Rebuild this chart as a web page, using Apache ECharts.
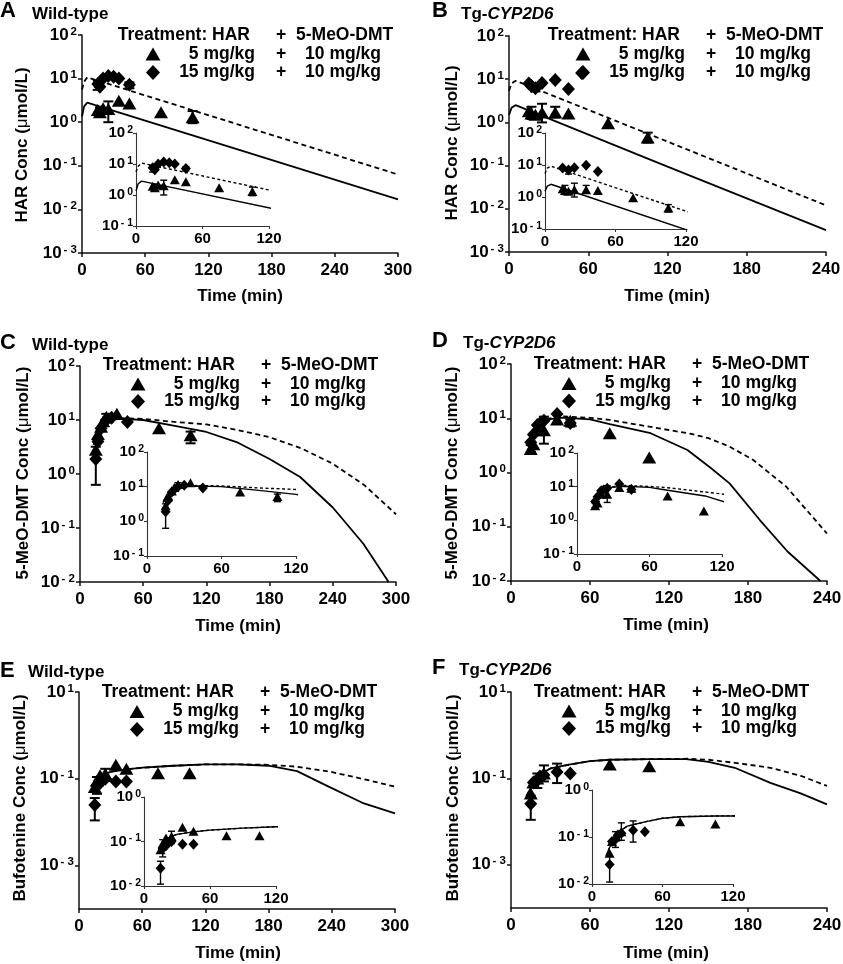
<!DOCTYPE html>
<html><head><meta charset="utf-8">
<script src="https://cdn.jsdelivr.net/npm/echarts@6/dist/echarts.min.js"></script>
<style>html,body{margin:0;padding:0;background:#fff}#c{width:843px;height:964px}</style>
</head><body><div id="c"></div>
<script>
// ===================== DATA =====================
// Panel A: HAR, wild-type
const A_triT = [15, 17, 20, 25, 35, 45, 75, 105];
const A_triV = [1.9, 1.7, 2.1, 2.0, 3.1, 2.7, 1.7, 1.3];
const A_diaT = [15, 17, 20, 25, 30, 35, 45];
const A_diaV = [7.5, 6.5, 10, 11.5, 11, 10, 7.2];
const A_triErr = [[17, 1.4, 2.2], [25, 1.0, 3.0], [105, 0.95, 1.8]];
const A_diaErr = [[15, 5.5, 9.0], [45, 6.0, 8.2]];
const A_fit5 = [[0, 1.35], [2, 2.3], [5, 2.8], [150, 0.23], [300, 0.017]];
const A_fit15 = [[0, 5.6], [2, 8.5], [5, 10.7], [150, 0.86], [300, 0.063]];
// Panel B: HAR, Tg-CYP2D6
const B_triT = [15, 17, 20, 25, 35, 45, 75, 105];
const B_triV = [1.8, 1.6, 1.5, 1.7, 1.7, 1.6, 0.95, 0.45];
const B_diaT = [15, 17, 20, 25, 35, 45, 55];
const B_diaV = [8.0, 7.0, 6.2, 8.2, 9.6, 5.9, 14];
const B_inDiaT = [15, 20, 25, 35, 45];          // diamonds as drawn in the B inset
const B_inDiaV = [8.0, 7.0, 8.2, 9.8, 6.3];
const B_triErr = [[17, 1.2, 2.3], [25, 1.0, 2.7], [35, 1.3, 2.3], [105, 0.34, 0.58]];
const B_diaErr = [[20, 5.2, 7.2]];
const B_fit5 = [[0, 1.5], [2, 2.2], [5, 2.5], [120, 0.095], [240, 0.0032]];
const B_fit15 = [[0, 5.4], [2, 8.0], [5, 9.2], [120, 0.36], [240, 0.012]];
// Panel C: 5-MeO-DMT, wild-type
const C_triT = [15, 17, 20, 22, 25, 35, 75, 105];
const C_triV = [2.8, 5.5, 7.5, 9.5, 11.5, 13, 7.0, 5.2];
const C_diaT = [15, 17, 20, 25, 30, 45];
const C_diaV = [1.9, 4.0, 7.0, 10, 11, 9.2];
const C_triErr = [[25, 9.0, 13], [105, 3.7, 6.1]];
const C_diaErr = [[15, 0.63, 3.2]];
const C_fit5 = [[13, 3.5], [15, 5.0], [18, 7.0], [22, 9.0], [28, 10.2], [40, 10.5], [60, 10], [90, 7.8], [120, 6.0], [150, 3.8], [180, 1.9], [209, 0.88], [240, 0.24], [269, 0.051], [293, 0.01]];
const C_fit15 = [[13, 3.5], [15, 5.0], [18, 7.0], [22, 9.0], [28, 10.3], [40, 10.8], [60, 10.5], [90, 9.2], [120, 8.3], [150, 6.5], [180, 4.8], [210, 3.0], [240, 1.55], [270, 0.62], [300, 0.18]];
// Panel D: 5-MeO-DMT, Tg-CYP2D6
const D_triT = [15, 17, 20, 25, 35, 45, 75, 105];
const D_triV = [2.7, 3.3, 6.0, 6.0, 9.5, 9.0, 5.3, 1.9];
const D_diaT = [15, 17, 20, 22, 25, 35, 45];
const D_diaV = [3.6, 5.0, 7.5, 8.0, 9.0, 12, 8.2];
const D_triErr = [[15, 2.4, 3.2], [25, 3.4, 10.7]];
const D_diaErr = [[45, 7.0, 9.5]];
const D_fit5 = [[13, 3.0], [15, 4.0], [18, 6.0], [22, 8.0], [28, 9.5], [40, 10.3], [60, 9.5], [75, 7.8], [106, 5.3], [134, 2.6], [152, 1.2], [166, 0.63], [189, 0.133], [210, 0.035], [235, 0.01]];
const D_fit15 = [[13, 3.0], [15, 4.0], [18, 6.0], [22, 8.0], [28, 9.8], [40, 10.8], [60, 10.2], [75, 9.3], [105, 7.0], [136, 5.2], [150, 4.3], [166, 3.0], [184, 1.7], [209, 0.55], [240, 0.075]];
// Panel E: Bufotenine, wild-type
const E_triT = [15, 17, 20, 25, 35, 45, 75, 105];
const E_triV = [0.065, 0.09, 0.12, 0.13, 0.21, 0.17, 0.135, 0.135];
const E_diaT = [15, 17, 20, 25, 35, 45];
const E_diaV = [0.025, 0.07, 0.08, 0.1, 0.087, 0.087];
const E_triErr = [[17, 0.045, 0.11], [25, 0.09, 0.17]];
const E_diaErr = [[15, 0.011, 0.036]];
const E_fit5 = [[14, 0.06], [17, 0.09], [20, 0.11], [25, 0.13], [30, 0.145], [45, 0.165], [60, 0.18], [90, 0.2], [120, 0.215], [150, 0.215], [180, 0.2], [207, 0.15], [237, 0.066], [269, 0.028], [300, 0.016]];
const E_fit15 = [[14, 0.06], [17, 0.09], [20, 0.11], [25, 0.13], [30, 0.145], [45, 0.165], [60, 0.18], [90, 0.2], [120, 0.215], [150, 0.215], [180, 0.21], [207, 0.19], [237, 0.148], [269, 0.1], [300, 0.066]];
// Panel F: Bufotenine, Tg-CYP2D6
const F_triT = [15, 17, 20, 25, 75, 105];
const F_triV = [0.045, 0.08, 0.1, 0.13, 0.21, 0.19];
const F_diaT = [15, 17, 20, 22, 25, 35, 45];
const F_diaV = [0.026, 0.08, 0.09, 0.11, 0.12, 0.14, 0.13];
const F_triErr = [[20, 0.06, 0.13], [25, 0.085, 0.2]];
const F_diaErr = [[15, 0.011, 0.04], [35, 0.078, 0.22]];
const F_fit5 = [[12, 0.04], [15, 0.06], [20, 0.1], [25, 0.14], [30, 0.17], [45, 0.21], [60, 0.25], [75, 0.27], [105, 0.28], [133, 0.28], [150, 0.24], [170, 0.176], [197, 0.079], [220, 0.045], [240, 0.025]];
const F_fit15 = [[12, 0.04], [15, 0.06], [20, 0.1], [25, 0.14], [30, 0.17], [45, 0.21], [60, 0.25], [75, 0.27], [105, 0.28], [135, 0.285], [150, 0.27], [170, 0.23], [197, 0.176], [220, 0.115], [240, 0.067]];

// axis ranges / tick values
const TICKS_HAR = [1e-3, 1e-2, 1e-1, 1, 10, 100];
const TICKS_DMT = [1e-2, 1e-1, 1, 10, 100];
const TICKS_BUF = [1e-3, 1e-1, 10];
const TICKS_IN = [0.1, 1, 10, 100];
const TICKS_INBUF = [0.01, 0.1, 1];

// text
const LEG_HEAD = ['Treatment: HAR', '+', '5-MeO-DMT'];
const LEG_ROW1 = ['5 mg/kg', '+', '10 mg/kg'];
const LEG_ROW2 = ['15 mg/kg', '+', '10 mg/kg'];

// ===================== LAYOUT =====================
const panels = [
  {letter: 'A', wt: true, ytitle: 'HAR Conc', d: {triT: A_triT, triV: A_triV, diaT: A_diaT, diaV: A_diaV, triErr: A_triErr, diaErr: A_diaErr, fit5: A_fit5, fit15: A_fit15},
   main: {left: 82, top: 35, width: 316, height: 218}, inset: {left: 136, top: 133, width: 133, height: 93},
   xMax: 300, yMain: [1e-3, 100], yTicks: TICKS_HAR, yIn: [0.1, 100], yInTicks: TICKS_IN,
   lx: 0, ly: 11, sx: 32, sy: 14, ytx: 22, yty: 145, tx: 240, ty: 296, plus: 281, rows: [35, 54, 72.5]},
  {letter: 'B', wt: false, ytitle: 'HAR Conc', d: {triT: B_triT, triV: B_triV, diaT: B_diaT, diaV: B_diaV, inDiaT: B_inDiaT, inDiaV: B_inDiaV, triErr: B_triErr, diaErr: B_diaErr, fit5: B_fit5, fit15: B_fit15},
   main: {left: 509, top: 36, width: 317, height: 216}, inset: {left: 545, top: 133, width: 141, height: 96},
   xMax: 240, yMain: [1e-3, 100], yTicks: TICKS_HAR, yIn: [0.1, 100], yInTicks: TICKS_IN,
   lx: 432, ly: 11, sx: 461, sy: 14, ytx: 452, yty: 143, tx: 667, ty: 296, plus: 711, rows: [35, 54, 72.5]},
  {letter: 'C', wt: true, ytitle: '5-MeO-DMT Conc', d: {triT: C_triT, triV: C_triV, diaT: C_diaT, diaV: C_diaV, triErr: C_triErr, diaErr: C_diaErr, fit5: C_fit5, fit15: C_fit15},
   main: {left: 80, top: 366, width: 316, height: 216}, inset: {left: 147, top: 452, width: 149, height: 104},
   xMax: 300, yMain: [1e-2, 100], yTicks: TICKS_DMT, yIn: [0.1, 100], yInTicks: TICKS_IN,
   lx: 0, ly: 343, sx: 32, sy: 345, ytx: 23, yty: 473, tx: 238, ty: 626, plus: 266, rows: [365, 384, 401.5]},
  {letter: 'D', wt: false, ytitle: '5-MeO-DMT Conc', d: {triT: D_triT, triV: D_triV, diaT: D_diaT, diaV: D_diaV, triErr: D_triErr, diaErr: D_diaErr, fit5: D_fit5, fit15: D_fit15},
   main: {left: 511, top: 364, width: 316, height: 217}, inset: {left: 577, top: 453, width: 145, height: 101},
   xMax: 240, yMain: [1e-2, 100], yTicks: TICKS_DMT, yIn: [0.1, 100], yInTicks: TICKS_IN,
   lx: 432, ly: 341, sx: 463, sy: 343, ytx: 452, yty: 473, tx: 666, ty: 625, plus: 697, rows: [364, 383.5, 401]},
  {letter: 'E', wt: true, ytitle: 'Bufotenine Conc', d: {triT: E_triT, triV: E_triV, diaT: E_diaT, diaV: E_diaV, triErr: E_triErr, diaErr: E_diaErr, fit5: E_fit5, fit15: E_fit15},
   main: {left: 79, top: 692, width: 316, height: 217}, inset: {left: 144, top: 797, width: 132, height: 89},
   xMax: 300, yMain: [1e-4, 10], yTicks: TICKS_BUF, yIn: [0.01, 1], yInTicks: TICKS_INBUF,
   lx: 0, ly: 671, sx: 28, sy: 672, ytx: 20, yty: 798, tx: 238, ty: 953, plus: 265, rows: [692, 711.5, 729.5]},
  {letter: 'F', wt: false, ytitle: 'Bufotenine Conc', d: {triT: F_triT, triV: F_triV, diaT: F_diaT, diaV: F_diaV, triErr: F_triErr, diaErr: F_diaErr, fit5: F_fit5, fit15: F_fit15},
   main: {left: 511, top: 692, width: 316, height: 216}, inset: {left: 592, top: 790, width: 141, height: 94},
   xMax: 240, yMain: [1e-4, 10], yTicks: TICKS_BUF, yIn: [0.01, 1], yInTicks: TICKS_INBUF,
   lx: 432, ly: 668, sx: 459, sy: 670, ytx: 453, yty: 798, tx: 666, ty: 953, plus: 697, rows: [692, 711, 728.5]}
];

// ===================== BUILD =====================
const FONT = '"Liberation Sans", Arial, Helvetica, sans-serif';
const INK = '#000';

function supFmt(v) {
  const e = Math.round(Math.log10(v));
  const s = e < 0 ? '- ' + (-e) : String(e);
  return '{b|10}{s|' + s + '}';
}
function supRich(big, small) {
  return {
    b: {fontSize: big, fontWeight: 'bold', fontFamily: FONT, color: INK},
    s: {fontSize: small, fontWeight: 'bold', fontFamily: FONT, color: INK, padding: [0, 0, Math.round(small * 0.6), 2]}
  };
}
function errRender(capW, lw) {
  return function (params, api) {
    const x = api.value(0), lo = api.value(1), hi = api.value(2);
    const a = api.coord([x, hi]), b = api.coord([x, lo]);
    const st = {stroke: INK, lineWidth: lw};
    return {type: 'group', children: [
      {type: 'line', shape: {x1: a[0], y1: a[1], x2: b[0], y2: b[1]}, style: st},
      {type: 'line', shape: {x1: a[0] - capW, y1: a[1], x2: a[0] + capW, y2: a[1]}, style: st},
      {type: 'line', shape: {x1: b[0] - capW, y1: b[1], x2: b[0] + capW, y2: b[1]}, style: st}
    ]};
  };
}
const zip = (T, V) => T.map((t, i) => [t, V[i]]);

const grid = [], xAxis = [], yAxis = [], series = [], graphic = [];

panels.forEach((p, i) => {
  [false, true].forEach(isIn => {
    const g = grid.length;
    const box = isIn ? p.inset : p.main;
    grid.push({left: box.left, top: box.top, width: box.width, height: box.height, containLabel: false, outerBoundsMode: 'none'});
    const axCol = isIn ? '#333' : '#111';
    const axW = isIn ? 1.1 : 1.5;
    xAxis.push({
      type: 'value', gridIndex: g, min: 0, max: isIn ? 120 : p.xMax, interval: 60,
      axisLine: {show: true, onZero: false, lineStyle: {color: axCol, width: axW}},
      axisTick: {show: true, inside: false, length: isIn ? 3 : 4, lineStyle: {color: axCol, width: axW}},
      axisLabel: {show: true, margin: isIn ? 5 : 9, color: INK, fontFamily: FONT, fontWeight: 'bold', fontSize: isIn ? 15 : 17, showMinLabel: true, showMaxLabel: true, hideOverlap: false},
      splitLine: {show: false}
    });
    const ticks = isIn ? p.yInTicks : p.yTicks;
    const yr = isIn ? p.yIn : p.yMain;
    yAxis.push({
      type: 'log', logBase: 10, gridIndex: g, min: yr[0], max: yr[1],
      axisLine: {show: true, onZero: false, lineStyle: {color: axCol, width: axW}},
      axisTick: {show: true, inside: false, length: isIn ? 3 : 4, customValues: ticks, lineStyle: {color: axCol, width: axW}},
      minorTick: {show: false},
      axisLabel: {show: true, customValues: ticks, margin: isIn ? 3 : 5, formatter: supFmt,
        rich: isIn ? supRich(15, 10.5) : supRich(17, 11.5), showMinLabel: true, showMaxLabel: true, hideOverlap: false},
      splitLine: {show: false}
    });
    const lw = isIn ? 1.4 : 1.8;
    const diaT = (isIn && p.d.inDiaT) ? p.d.inDiaT : p.d.diaT;
    const diaV = (isIn && p.d.inDiaV) ? p.d.inDiaV : p.d.diaV;
    series.push({type: 'line', xAxisIndex: g, yAxisIndex: g, data: p.d.fit5, showSymbol: false, symbol: 'none', clip: true,
      lineStyle: {color: INK, width: lw}, silent: true, animation: false, z: 2});
    series.push({type: 'line', xAxisIndex: g, yAxisIndex: g, data: p.d.fit15, showSymbol: false, symbol: 'none', clip: true,
      lineStyle: {color: INK, width: lw, type: isIn ? [3, 2.5] : [5, 3.5]}, silent: true, animation: false, z: 2});
    series.push({type: 'custom', xAxisIndex: g, yAxisIndex: g, coordinateSystem: 'cartesian2d',
      data: p.d.triErr.concat(p.d.diaErr), encode: {x: 0, y: [1, 2]}, renderItem: errRender(isIn ? 3.5 : 5, isIn ? 1.4 : 2),
      clip: true, silent: true, animation: false, z: 3});
    series.push({type: 'scatter', xAxisIndex: g, yAxisIndex: g, data: zip(p.d.triT, p.d.triV), symbol: 'triangle',
      symbolSize: isIn ? [10, 9] : [14, 12], itemStyle: {color: INK, opacity: 1}, clip: true, silent: true, animation: false, z: 4});
    series.push({type: 'scatter', xAxisIndex: g, yAxisIndex: g, data: zip(diaT, diaV), symbol: 'diamond',
      symbolSize: isIn ? [10, 11] : [13, 14], itemStyle: {color: INK, opacity: 1}, clip: true, silent: true, animation: false, z: 4});
  });

  // panel letter & subtitle
  graphic.push({type: 'text', x: p.lx, y: p.ly, style: {text: p.letter, font: 'bold 22px ' + FONT, fill: INK,
    align: 'left', textAlign: 'left', verticalAlign: 'middle', textVerticalAlign: 'middle'}});
  graphic.push({type: 'text', x: p.sx, y: p.sy, style: {
    text: p.wt ? '{n|Wild-type}' : '{n|Tg-}{i|CYP2D6}',
    rich: {n: {font: 'bold 17px ' + FONT, fill: INK, color: INK}, i: {font: 'italic bold 17px ' + FONT, fill: INK, color: INK}},
    align: 'left', textAlign: 'left', verticalAlign: 'middle', textVerticalAlign: 'middle'}});
  // y axis title
  graphic.push({type: 'text', x: p.ytx, y: p.yty, rotation: Math.PI / 2, style: {
    text: '{b|' + p.ytitle + ' (}{m|\u03bc}{b|mol/L)}',
    rich: {b: {font: 'bold 17px ' + FONT, fill: INK, color: INK}, m: {font: '17px ' + FONT, fill: INK, color: INK}},
    align: 'center', textAlign: 'center', verticalAlign: 'middle', textVerticalAlign: 'middle'}});
  // x axis title
  graphic.push({type: 'text', x: p.tx, y: p.ty, style: {text: 'Time (min)', font: 'bold 17px ' + FONT, fill: INK,
    align: 'center', textAlign: 'center', verticalAlign: 'middle', textVerticalAlign: 'middle'}});
  // legend
  const LF = 'bold 17.5px ' + FONT;
  const txt = (x, y, s, al) => ({type: 'text', x: x, y: y, style: {text: s, font: LF, fill: INK, align: al, textAlign: al, verticalAlign: 'middle', textVerticalAlign: 'middle'}});
  const px = p.plus, r = p.rows;
  graphic.push(txt(px - 31, r[0], LEG_HEAD[0], 'right'));
  graphic.push(txt(px, r[0], LEG_HEAD[1], 'center'));
  graphic.push(txt(px + 15, r[0], LEG_HEAD[2], 'left'));
  graphic.push(txt(px - 26, r[1], LEG_ROW1[0], 'right'));
  graphic.push(txt(px, r[1], LEG_ROW1[1], 'center'));
  graphic.push(txt(px + 62, r[1], LEG_ROW1[2], 'center'));
  graphic.push(txt(px - 26, r[2], LEG_ROW2[0], 'right'));
  graphic.push(txt(px, r[2], LEG_ROW2[1], 'center'));
  graphic.push(txt(px + 62, r[2], LEG_ROW2[2], 'center'));
  const cx = px - 128;
  graphic.push({type: 'polygon', shape: {points: [[cx - 7.5, r[1] + 6.5], [cx + 7.5, r[1] + 6.5], [cx, r[1] - 6.5]]}, style: {fill: INK}});
  graphic.push({type: 'polygon', shape: {points: [[cx, r[2] - 7.5], [cx + 7, r[2]], [cx, r[2] + 7.5], [cx - 7, r[2]]]}, style: {fill: INK}});
});

const chart = echarts.init(document.getElementById('c'), null, {renderer: 'canvas'});
chart.setOption({animation: false, backgroundColor: '#fff', grid, xAxis, yAxis, series, graphic});
</script>
</body></html>
